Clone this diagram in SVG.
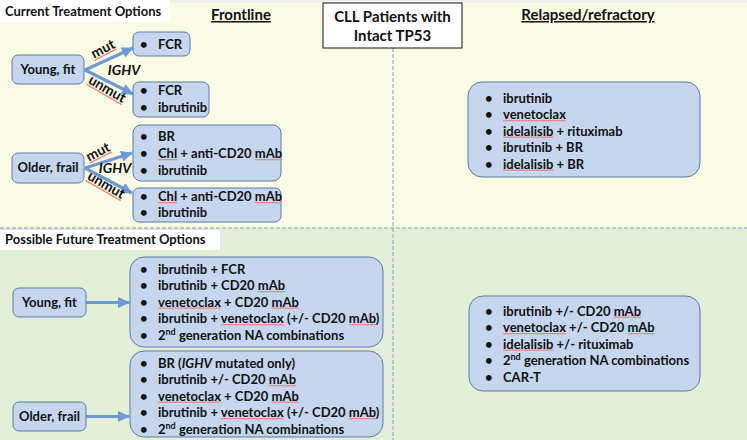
<svg xmlns="http://www.w3.org/2000/svg" width="747" height="440" viewBox="0 0 747 440">
<defs>
<style>
text{font-family:Lato,"Liberation Sans",Arial,sans-serif;font-weight:bold;fill:#111;}
.t{font-size:13px;}
.e{font-size:14px;}
.hd{font-size:15px;text-decoration:underline;}
.lbl{font-size:13px;}
.i{font-style:italic;}
.sp{text-decoration:underline;text-underline-offset:2px;fill:#EA8A86;}
.sp tspan{fill:#111;}
.box{fill:#C5D6EE;stroke:#5A7BA3;stroke-width:1;}
.dash{stroke:#7F9EC4;stroke-width:1;stroke-dasharray:4 2;fill:none;}
.arr{stroke:#6E9AD3;stroke-width:3.2;fill:none;}
</style>
<marker id="ah" markerUnits="userSpaceOnUse" markerWidth="13" markerHeight="13" refX="11" refY="6.5" orient="auto">
<path d="M0,1 L12,6.5 L0,12 Z" fill="#6E9AD3"/>
</marker>
</defs>
<rect x="0" y="0" width="747" height="228" fill="#FAFBE4"/>
<rect x="0" y="228" width="747" height="212" fill="#E3EFD9"/>
<rect x="0" y="0" width="747" height="3" fill="#EEEFEA"/>
<g id="dividers">
<line class="dash" x1="0" y1="228" x2="747" y2="228"/>
<line class="dash" x1="393" y1="48" x2="393" y2="440"/>
</g>
<g id="label-current">
<rect x="0" y="0" width="170" height="22" fill="#FFFFFF"/>
<text class="lbl" x="5" y="16">Current Treatment Options</text>
</g>
<g id="label-future">
<rect x="0" y="230" width="220" height="20" fill="#FFFFFF"/>
<text class="lbl" x="5" y="244">Possible Future Treatment Options</text>
</g>
<g id="head-frontline"><text class="hd" x="241" y="20" text-anchor="middle">Frontline</text></g>
<g id="head-relapsed"><text class="hd" x="588" y="20" text-anchor="middle">Relapsed/refractory</text></g>
<g id="title">
<rect x="323" y="3" width="139" height="45" fill="#FFFFFF" stroke="#111" stroke-width="1"/>
<text x="392.5" y="22" text-anchor="middle" style="font-size:15px">CLL Patients with</text>
<text x="392.5" y="41" text-anchor="middle" style="font-size:15px">Intact TP53</text>
</g>
<g id="connectors">
<line class="arr" x1="85" y1="70" x2="133" y2="48" marker-end="url(#ah)"/>
<line class="arr" x1="85" y1="70" x2="133" y2="94" marker-end="url(#ah)"/>
<line class="arr" x1="85" y1="168" x2="132" y2="153" marker-end="url(#ah)"/>
<line class="arr" x1="85" y1="168" x2="132" y2="193" marker-end="url(#ah)"/>
<line class="arr" x1="86" y1="302.5" x2="129" y2="302.5" marker-end="url(#ah)"/>
<line class="arr" x1="86" y1="416.5" x2="129" y2="416.5" marker-end="url(#ah)"/>
</g>
<g id="edge-labels">
<text class="e" transform="translate(105,53) rotate(-27)" text-anchor="middle"><tspan class="sp"><tspan>mut</tspan></tspan></text>
<text class="e" transform="translate(105,93) rotate(30)" text-anchor="middle"><tspan class="sp"><tspan>unmut</tspan></tspan></text>
<text class="e i" x="124" y="75" text-anchor="middle">IGHV</text>
<text class="e" transform="translate(100,156) rotate(-27)" text-anchor="middle"><tspan class="sp"><tspan>mut</tspan></tspan></text>
<text class="e" transform="translate(104,189) rotate(30)" text-anchor="middle"><tspan class="sp"><tspan>unmut</tspan></tspan></text>
<text class="e i" x="115" y="173" text-anchor="middle">IGHV</text>
</g>
<g id="young-fit-current">
<rect class="box" x="12" y="55" width="72" height="29" rx="6"/>
<text class="t" x="48" y="74" text-anchor="middle">Young, fit</text>
</g>
<g id="older-frail-current">
<rect class="box" x="12" y="153" width="72" height="30" rx="6"/>
<text class="t" x="48" y="172" text-anchor="middle">Older, frail</text>
</g>
<g id="fl-mut-young">
<rect class="box" x="133" y="32" width="57" height="24" rx="6"/>
<text class="t" x="140" y="48.5">•</text><text class="t" x="158" y="48.5">FCR</text>
</g>
<g id="fl-unmut-young">
<rect class="box" x="133" y="82" width="76" height="35" rx="6"/>
<text class="t" x="140" y="95">•</text><text class="t" x="158" y="95">FCR</text>
<text class="t" x="140" y="112">•</text><text class="t" x="158" y="112">ibrutinib</text>
</g>
<g id="fl-mut-older">
<rect class="box" x="133" y="125" width="148" height="56" rx="8"/>
<text class="t" x="140" y="141">•</text><text class="t" x="158" y="141">BR</text>
<text class="t" x="140" y="158">•</text><text class="t" x="158" y="158"><tspan class="sp"><tspan>Chl</tspan></tspan> + anti-CD20 <tspan class="sp"><tspan>mAb</tspan></tspan></text>
<text class="t" x="140" y="175">•</text><text class="t" x="158" y="175">ibrutinib</text>
</g>
<g id="fl-unmut-older">
<rect class="box" x="133" y="188" width="148" height="34" rx="6"/>
<text class="t" x="140" y="201">•</text><text class="t" x="158" y="201"><tspan class="sp"><tspan>Chl</tspan></tspan> + anti-CD20 <tspan class="sp"><tspan>mAb</tspan></tspan></text>
<text class="t" x="140" y="217">•</text><text class="t" x="158" y="217">ibrutinib</text>
</g>
<g id="rr-current">
<rect class="box" x="468" y="82" width="232" height="95" rx="14"/>
<text class="t" x="485" y="102.5">•</text><text class="t" x="503" y="102.5">ibrutinib</text>
<text class="t" x="485" y="119">•</text><text class="t" x="503" y="119"><tspan class="sp"><tspan>venetoclax</tspan></tspan></text>
<text class="t" x="485" y="135.5">•</text><text class="t" x="503" y="135.5"><tspan class="sp"><tspan>idelalisib</tspan></tspan> + rituximab</text>
<text class="t" x="485" y="152">•</text><text class="t" x="503" y="152">ibrutinib + BR</text>
<text class="t" x="485" y="168.5">•</text><text class="t" x="503" y="168.5"><tspan class="sp"><tspan>idelalisib</tspan></tspan> + BR</text>
</g>
<g id="young-fit-future">
<rect class="box" x="13" y="288" width="73" height="29" rx="6"/>
<text class="t" x="49.5" y="307" text-anchor="middle">Young, fit</text>
</g>
<g id="older-frail-future">
<rect class="box" x="13" y="402" width="73" height="29" rx="6"/>
<text class="t" x="49.5" y="421" text-anchor="middle">Older, frail</text>
</g>
<g id="fut-young">
<rect class="box" x="130" y="257" width="253" height="90" rx="14"/>
<text class="t" x="140" y="273.5">•</text><text class="t" x="158" y="273.5">ibrutinib + FCR</text>
<text class="t" x="140" y="290">•</text><text class="t" x="158" y="290">ibrutinib + CD20 <tspan class="sp"><tspan>mAb</tspan></tspan></text>
<text class="t" x="140" y="306.5">•</text><text class="t" x="158" y="306.5"><tspan class="sp"><tspan>venetoclax</tspan></tspan> + CD20 <tspan class="sp"><tspan>mAb</tspan></tspan></text>
<text class="t" x="140" y="323">•</text><text class="t" x="158" y="323">ibrutinib + <tspan class="sp"><tspan>venetoclax</tspan></tspan> (+/- CD20 <tspan class="sp"><tspan>mAb</tspan></tspan>)</text>
<text class="t" x="140" y="339.5">•</text><text class="t" x="158" y="339.5">2<tspan dy="-5" style="font-size:9px">nd</tspan><tspan dy="5"> generation NA combinations</tspan></text>
</g>
<g id="fut-older">
<rect class="box" x="130" y="351" width="253" height="86" rx="14"/>
<text class="t" x="140" y="367.5">•</text><text class="t" x="158" y="367.5">BR (<tspan class="i">IGHV</tspan> mutated only)</text>
<text class="t" x="140" y="384">•</text><text class="t" x="158" y="384">ibrutinib +/- CD20 <tspan class="sp"><tspan>mAb</tspan></tspan></text>
<text class="t" x="140" y="400.5">•</text><text class="t" x="158" y="400.5"><tspan class="sp"><tspan>venetoclax</tspan></tspan> + CD20 <tspan class="sp"><tspan>mAb</tspan></tspan></text>
<text class="t" x="140" y="417">•</text><text class="t" x="158" y="417">ibrutinib + <tspan class="sp"><tspan>venetoclax</tspan></tspan> (+/- CD20 <tspan class="sp"><tspan>mAb</tspan></tspan>)</text>
<text class="t" x="140" y="433.5">•</text><text class="t" x="158" y="433.5">2<tspan dy="-5" style="font-size:9px">nd</tspan><tspan dy="5"> generation NA combinations</tspan></text>
</g>
<g id="rr-future">
<rect class="box" x="469" y="296" width="231" height="95" rx="14"/>
<text class="t" x="485" y="315.5">•</text><text class="t" x="503" y="315.5">ibrutinib +/- CD20 <tspan class="sp"><tspan>mAb</tspan></tspan></text>
<text class="t" x="485" y="332">•</text><text class="t" x="503" y="332"><tspan class="sp"><tspan>venetoclax</tspan></tspan> +/- CD20 <tspan class="sp"><tspan>mAb</tspan></tspan></text>
<text class="t" x="485" y="348.5">•</text><text class="t" x="503" y="348.5"><tspan class="sp"><tspan>idelalisib</tspan></tspan> +/- rituximab</text>
<text class="t" x="485" y="365">•</text><text class="t" x="503" y="365">2<tspan dy="-5" style="font-size:9px">nd</tspan><tspan dy="5"> generation NA combinations</tspan></text>
<text class="t" x="485" y="381.5">•</text><text class="t" x="503" y="381.5">CAR-T</text>
</g>
</svg>
